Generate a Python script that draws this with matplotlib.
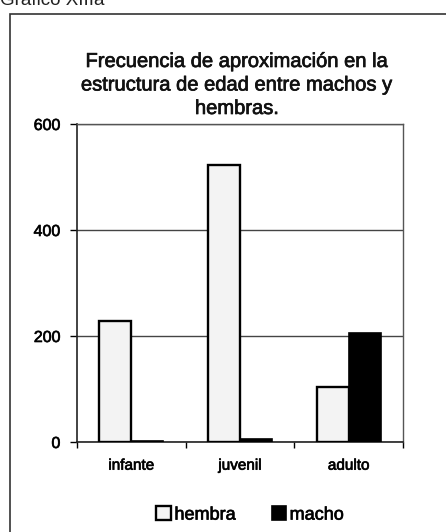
import matplotlib
matplotlib.use("Agg")
import matplotlib.pyplot as plt
import matplotlib.patheffects as pe
import numpy as np
from matplotlib.patches import Rectangle

categories = ["infante", "juvenil", "adulto"]
hembra = [228, 523, 104]
macho = [2, 5, 206]
series_labels = ["hembra", "macho"]
y_ticks = [0, 200, 400, 600]
title = "Frecuencia de aproximación en la\nestructura de edad entre machos y\nhembras."

plt.rcParams["font.family"] = ["Liberation Sans", "DejaVu Sans"]

# slightly heavier strokes for the printed-looking lettering
heavy = [pe.withStroke(linewidth=0.5, foreground="#111111")]

W, H = 446, 532
fig = plt.figure(figsize=(W / 100, H / 100), dpi=100)
fig.patch.set_facecolor("white")

# outer chart frame (runs past the right and bottom edges)
fig.patches.append(Rectangle((10 / W, -0.05), 1.2, 1 - 14 / H + 0.05,
                             transform=fig.transFigure, fill=False,
                             edgecolor="#333333", linewidth=1.2))

# caption above the frame, mostly cut off by the top edge
fig.text(0.0, 1 - 5 / H, "Gráfico XIIIa", fontsize=13.5, color="#222222",
         ha="left", va="baseline")

ax = fig.add_axes([77 / W, (H - 442) / H, 326 / W, 318 / H])
x = np.arange(len(categories))
bw = 0.294
ax.bar(x - bw / 2, hembra, bw, color="#f3f3f3", edgecolor="black",
       linewidth=1.7, label=series_labels[0], zorder=3)
ax.bar(x + bw / 2, macho, bw, color="black", edgecolor="black",
       linewidth=1.2, label=series_labels[1], zorder=3)

ax.set_xlim(-0.5, len(categories) - 0.5)
ax.set_ylim(0, 600)
ax.set_yticks(y_ticks)
ax.set_yticklabels([str(v) for v in y_ticks], fontsize=11.5)
ax.set_xticks(x)
ax.set_xticklabels(categories, fontsize=11)
ax.set_xticks(np.arange(len(categories) + 1) - 0.5, minor=True)
ax.tick_params(axis="x", which="major", length=0, pad=12)
ax.tick_params(axis="x", which="minor", length=4, width=1, direction="out")
ax.tick_params(axis="y", which="major", length=5, width=1, pad=7)
for lbl in ax.get_xticklabels() + ax.get_yticklabels():
    lbl.set_path_effects(heavy)

ax.yaxis.grid(True, color="#444444", linewidth=1.0, zorder=0)
ax.set_axisbelow(True)
for side in ["left", "bottom"]:
    ax.spines[side].set_color("#222222")
    ax.spines[side].set_linewidth(1.2)
for side in ["top", "right"]:
    ax.spines[side].set_color("#555555")
    ax.spines[side].set_linewidth(1.0)

fig.text(237 / W, 1 - 85 / H, title, fontsize=14.5, ha="center",
         va="center", linespacing=1.3, color="#111111", path_effects=heavy)

leg = fig.legend(loc="center", bbox_to_anchor=(250 / W, 1 - 515 / H), ncol=2,
                 frameon=False, fontsize=13, handlelength=0.8,
                 handleheight=0.8, handletextpad=0.2, columnspacing=2.0)
for t in leg.get_texts():
    t.set_path_effects(heavy)

fig.savefig("out.png", dpi=100)
